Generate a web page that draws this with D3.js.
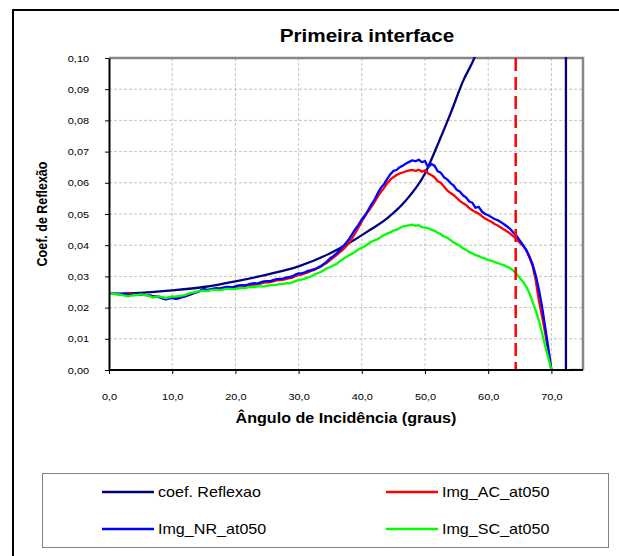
<!DOCTYPE html>
<html>
<head>
<meta charset="utf-8">
<script src="https://cdn.jsdelivr.net/npm/d3@7"></script>
<style>
  html, body { margin: 0; padding: 0; background: #fff; }
  svg { display: block; font-family: "Liberation Sans", Arial, sans-serif; }
</style>
</head>
<body>
<svg id="chart" width="619" height="556"></svg>
<script>
// ---- data -------------------------------------------------------------
const title = "Primeira interface";
const xTitle = "Ângulo de Incidência (graus)";
const yTitle = "Coef. de Reflexão";

const xTickValues = [0, 10, 20, 30, 40, 50, 60, 70];
const xTickLabels = ["0,0", "10,0", "20,0", "30,0", "40,0", "50,0", "60,0", "70,0"];
const yTickValues = [0, 0.01, 0.02, 0.03, 0.04, 0.05, 0.06, 0.07, 0.08, 0.09, 0.10];
const yTickLabels = ["0,00", "0,01", "0,02", "0,03", "0,04", "0,05", "0,06", "0,07", "0,08", "0,09", "0,10"];

// theoretical reflection coefficient; runs off scale and drops at the critical angle
const coefAngles = [0, 5, 10, 15, 20, 25, 30, 35, 38, 41, 44, 47, 50, 52, 54, 56, 58, 60, 62, 64, 66, 68, 70, 71, 72, 72.3, 72.3];
const coefValues = [0.0244, 0.0247, 0.0255, 0.0266, 0.0284, 0.0306, 0.0332, 0.0374, 0.0407, 0.0445, 0.0486, 0.0544, 0.0630, 0.0722, 0.0820, 0.0925, 0.1010, 0.115, 0.130, 0.150, 0.180, 0.230, 0.330, 0.450, 0.700, 1.000, 0];

// measured curves, sampled every half degree from 0 to 75
const angles = d3.range(0, 75.5, 0.5);

const acValues = [
  0.0244, 0.0244, 0.0244, 0.0243, 0.0243, 0.0240, 0.0247, 0.0243, 0.0241, 0.0242,
  0.0242, 0.0241, 0.0240, 0.0239, 0.0236, 0.0236, 0.0234, 0.0232, 0.0230, 0.0232,
  0.0232, 0.0230, 0.0231, 0.0234, 0.0236, 0.0239, 0.0243, 0.0247, 0.0250, 0.0254,
  0.0256, 0.0255, 0.0257, 0.0258, 0.0259, 0.0261, 0.0262, 0.0262, 0.0264, 0.0265,
  0.0266, 0.0267, 0.0268, 0.0270, 0.0271, 0.0272, 0.0274, 0.0275, 0.0277, 0.0280,
  0.0281, 0.0282, 0.0284, 0.0287, 0.0288, 0.0289, 0.0291, 0.0294, 0.0296, 0.0301,
  0.0305, 0.0306, 0.0310, 0.0313, 0.0318, 0.0321, 0.0326, 0.0331, 0.0338, 0.0344,
  0.0352, 0.0360, 0.0368, 0.0377, 0.0386, 0.0396, 0.0408, 0.0423, 0.0440, 0.0458,
  0.0476, 0.0492, 0.0508, 0.0522, 0.0538, 0.0555, 0.0570, 0.0583, 0.0598, 0.0610,
  0.0618, 0.0625, 0.0630, 0.0633, 0.0637, 0.0640, 0.0641, 0.0638, 0.0642, 0.0636,
  0.0640, 0.0630, 0.0625, 0.0618, 0.0605, 0.0600, 0.0588, 0.0576, 0.0568, 0.0561,
  0.0552, 0.0542, 0.0535, 0.0529, 0.0519, 0.0512, 0.0506, 0.0501, 0.0493, 0.0486,
  0.0480, 0.0475, 0.0468, 0.0463, 0.0457, 0.0450, 0.0444, 0.0437, 0.0428, 0.0420,
  0.0408, 0.0398, 0.0385, 0.0362, 0.0335, 0.0290, 0.0225, 0.0175, 0.0120, 0.0062,
  0.0000, null, null, null, null, null, null, null, null, null, null];

const nrValues = [
  0.0244, 0.0244, 0.0244, 0.0243, 0.0243, 0.0244, 0.0242, 0.0241, 0.0240, 0.0242,
  0.0242, 0.0241, 0.0240, 0.0238, 0.0236, 0.0235, 0.0233, 0.0229, 0.0226, 0.0229,
  0.0231, 0.0228, 0.0229, 0.0233, 0.0236, 0.0240, 0.0243, 0.0247, 0.0250, 0.0255,
  0.0260, 0.0257, 0.0258, 0.0261, 0.0262, 0.0261, 0.0264, 0.0266, 0.0266, 0.0265,
  0.0268, 0.0271, 0.0272, 0.0271, 0.0274, 0.0277, 0.0278, 0.0277, 0.0281, 0.0284,
  0.0285, 0.0285, 0.0288, 0.0291, 0.0292, 0.0293, 0.0296, 0.0298, 0.0300, 0.0306,
  0.0310, 0.0310, 0.0313, 0.0318, 0.0320, 0.0323, 0.0328, 0.0333, 0.0340, 0.0348,
  0.0358, 0.0365, 0.0374, 0.0384, 0.0395, 0.0407, 0.0420, 0.0436, 0.0452, 0.0466,
  0.0483, 0.0496, 0.0512, 0.0530, 0.0545, 0.0566, 0.0583, 0.0595, 0.0612, 0.0627,
  0.0638, 0.0641, 0.0650, 0.0655, 0.0662, 0.0667, 0.0672, 0.0669, 0.0674, 0.0666,
  0.0670, 0.0650, 0.0660, 0.0655, 0.0637, 0.0632, 0.0618, 0.0611, 0.0600, 0.0592,
  0.0578, 0.0572, 0.0560, 0.0553, 0.0540, 0.0536, 0.0520, 0.0523, 0.0508, 0.0500,
  0.0496, 0.0490, 0.0484, 0.0480, 0.0474, 0.0467, 0.0460, 0.0452, 0.0440, 0.0430,
  0.0415, 0.0401, 0.0385, 0.0365, 0.0340, 0.0305, 0.0260, 0.0205, 0.0140, 0.0072,
  0.0000, null, null, null, null, null, null, null, null, null, null];

const scValues = [
  0.0244, 0.0244, 0.0243, 0.0242, 0.0241, 0.0238, 0.0236, 0.0238, 0.0241, 0.0240,
  0.0242, 0.0241, 0.0240, 0.0236, 0.0232, 0.0235, 0.0236, 0.0233, 0.0230, 0.0233,
  0.0236, 0.0235, 0.0237, 0.0238, 0.0240, 0.0244, 0.0247, 0.0249, 0.0252, 0.0253,
  0.0254, 0.0253, 0.0255, 0.0257, 0.0257, 0.0256, 0.0258, 0.0260, 0.0260, 0.0259,
  0.0260, 0.0262, 0.0263, 0.0262, 0.0265, 0.0266, 0.0266, 0.0268, 0.0268, 0.0267,
  0.0270, 0.0272, 0.0272, 0.0273, 0.0275, 0.0276, 0.0278, 0.0278, 0.0281, 0.0285,
  0.0288, 0.0290, 0.0293, 0.0297, 0.0300, 0.0306, 0.0310, 0.0314, 0.0320, 0.0326,
  0.0330, 0.0335, 0.0340, 0.0348, 0.0355, 0.0362, 0.0368, 0.0373, 0.0380, 0.0387,
  0.0392, 0.0397, 0.0404, 0.0411, 0.0415, 0.0419, 0.0426, 0.0432, 0.0437, 0.0441,
  0.0447, 0.0450, 0.0455, 0.0460, 0.0462, 0.0464, 0.0466, 0.0462, 0.0464, 0.0458,
  0.0456, 0.0454, 0.0450, 0.0446, 0.0440, 0.0435, 0.0428, 0.0424, 0.0417, 0.0409,
  0.0404, 0.0398, 0.0390, 0.0385, 0.0378, 0.0374, 0.0368, 0.0365, 0.0360, 0.0357,
  0.0352, 0.0350, 0.0346, 0.0343, 0.0339, 0.0336, 0.0331, 0.0326, 0.0318, 0.0308,
  0.0295, 0.0283, 0.0268, 0.0247, 0.0220, 0.0192, 0.0160, 0.0120, 0.0078, 0.0040,
  0.0000, null, null, null, null, null, 0.0000, 0.0000, 0.0000, 0.0000, 0.0000];

// position of the dashed marker line (degrees)
const markerAngle = [64.35];

const seriesNames = ["coef. Reflexao", "Img_AC_at050", "Img_NR_at050", "Img_SC_at050"];
const seriesColors = ["#000080", "#ff0000", "#0000ff", "#00ff00"];

// ---- layout -------------------------------------------------------------
const svg = d3.select("#chart");
const SX = 1.15; // horizontal stretch of all lettering
const plot = { left: 109, top: 58, right: 583, bottom: 370 };

const x = d3.scaleLinear().domain([0, 75]).range([plot.left, plot.right]);
const y = d3.scaleLinear().domain([0, 0.10]).range([plot.bottom, plot.top]);

function label(x0, y0, str, size, weight, anchor, rotate) {
  return svg.append("text")
    .attr("transform", `translate(${x0},${y0}) scale(${SX},1)` + (rotate ? ` rotate(${rotate})` : ""))
    .attr("text-anchor", anchor)
    .attr("font-size", size)
    .attr("font-weight", weight)
    .attr("fill", "#000")
    .text(str);
}

// outer frame
svg.append("rect")
  .attr("x", 13).attr("y", 10).attr("width", 700).attr("height", 700)
  .attr("fill", "none").attr("stroke", "#000").attr("stroke-width", 2);

// grid
const grid = svg.append("g").attr("stroke", "#c4c4c4").attr("stroke-width", 1).attr("stroke-dasharray", "3,2");
grid.selectAll("line.v").data(xTickValues.filter(d => d > 0)).join("line")
  .attr("x1", d => x(d)).attr("x2", d => x(d)).attr("y1", plot.top).attr("y2", plot.bottom);
grid.selectAll("line.h").data(yTickValues.filter(d => d > 0 && d < 0.10)).join("line")
  .attr("x1", plot.left).attr("x2", plot.right).attr("y1", d => y(d)).attr("y2", d => y(d));

// plot frame: top/right grey
svg.append("path")
  .attr("d", `M${plot.left},${plot.top}H${plot.right}V${plot.bottom}`)
  .attr("fill", "none").attr("stroke", "#878787").attr("stroke-width", 2.5);

// series
svg.append("clipPath").attr("id", "clip").append("rect")
  .attr("x", plot.left).attr("y", plot.top - 1)
  .attr("width", plot.right - plot.left).attr("height", plot.bottom - plot.top + 2);

const series = svg.append("g").attr("clip-path", "url(#clip)");
const line = d3.line()
  .defined(d => d[1] !== null)
  .x(d => x(d[0])).y(d => y(d[1]));
const smoothLine = d3.line()
  .curve(d3.curveMonotoneX)
  .x(d => x(d[0])).y(d => y(d[1]));

function stroke(d, color) {
  series.append("path")
    .attr("d", d)
    .attr("fill", "none")
    .attr("stroke", color)
    .attr("stroke-width", 2.3)
    .attr("stroke-linejoin", "round");
}

// theoretical curve: smooth rise, then vertical drop at the critical angle
const coefPts = coefAngles.map((a, i) => [a, coefValues[i]]);
stroke(smoothLine(coefPts.slice(0, -1)), seriesColors[0]);
stroke(line(coefPts.slice(-2)), seriesColors[0]);

[acValues, nrValues, scValues].forEach((vals, i) => {
  stroke(line(angles.map((a, j) => [a, vals[j]])), seriesColors[i + 1]);
});

// dashed marker line
series.selectAll("line.marker").data(markerAngle).join("line")
  .attr("x1", d => x(d)).attr("x2", d => x(d))
  .attr("y1", y(0.10)).attr("y2", y(0))
  .attr("stroke", "#ff0000").attr("stroke-width", 2.5)
  .attr("stroke-dasharray", "13,6");

// axes
const yAxis = d3.axisLeft(y).tickValues(yTickValues)
  .tickFormat((d, i) => yTickLabels[i]).tickSize(4).tickPadding(16).tickSizeOuter(0);
const yG = svg.append("g").attr("transform", `translate(${plot.left},0)`).call(yAxis);
yG.selectAll("text")
  .attr("x", -20 / SX).attr("transform", `scale(${SX},1)`)
  .attr("font-size", 9.5).attr("font-family", "Liberation Sans, Arial, sans-serif").attr("fill", "#000");
yG.select(".domain").attr("stroke", "#000").attr("stroke-width", 2);
yG.selectAll(".tick line").attr("stroke", "#000");

const xAxis = d3.axisBottom(x).tickValues(xTickValues)
  .tickFormat((d, i) => xTickLabels[i]).tickSize(4).tickPadding(19).tickSizeOuter(0);
const xG = svg.append("g").attr("transform", `translate(0,${plot.bottom})`).call(xAxis);
xG.selectAll("text")
  .attr("transform", `scale(${SX},1)`)
  .attr("font-size", 9.5).attr("font-family", "Liberation Sans, Arial, sans-serif").attr("fill", "#000");
xG.select(".domain").attr("stroke", "#000").attr("stroke-width", 2)
  .attr("d", `M${plot.left},0H${plot.right}`);
xG.selectAll(".tick line").attr("stroke", "#000");

// titles
label(367, 42, title, 18, "bold", "middle");
label(346, 423, xTitle, 14, "bold", "middle");
label(47, 214, yTitle, 12.5, "bold", "middle", -90);

// legend
svg.append("rect")
  .attr("x", 42.5).attr("y", 473.5).attr("width", 566).attr("height", 74)
  .attr("fill", "#fff").attr("stroke", "#808080").attr("stroke-width", 1);
const legendPos = [[102, 492], [386, 492], [102, 529], [386, 529]];
seriesNames.forEach((name, i) => {
  const [lx, ly] = legendPos[i];
  svg.append("line")
    .attr("x1", lx).attr("x2", lx + 52).attr("y1", ly).attr("y2", ly)
    .attr("stroke", seriesColors[i]).attr("stroke-width", 2.5);
  label(lx + 56, ly + 5, name, 14, "normal", "start");
});
</script>
</body>
</html>
